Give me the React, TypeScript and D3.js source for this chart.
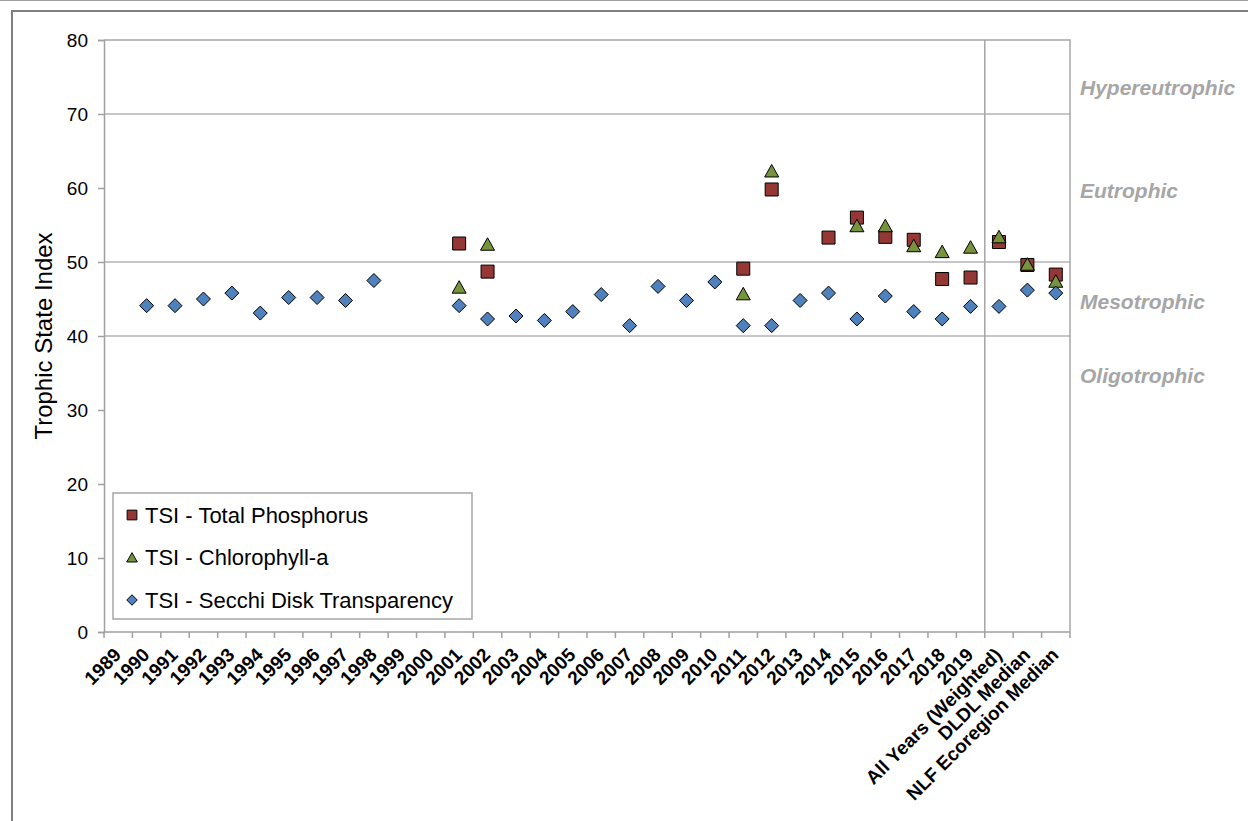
import * as React from 'react';
import * as d3 from 'd3';

const categories = [
  '1989', '1990', '1991', '1992', '1993', '1994', '1995', '1996', '1997', '1998',
  '1999', '2000', '2001', '2002', '2003', '2004', '2005', '2006', '2007', '2008',
  '2009', '2010', '2011', '2012', '2013', '2014', '2015', '2016', '2017', '2018',
  '2019', 'All Years (Weighted)', 'DLDL Median', 'NLF Ecoregion Median'
];

const tsiPhosphorus = [
  null, null, null, null, null, null, null, null, null, null,
  null, null, 52.5, 48.7, null, null, null, null, null, null,
  null, null, 49.1, 59.8, null, 53.3, 56.0, 53.4, 53.0, 47.7,
  47.9, 52.7, 49.6, 48.3
];

const tsiChlorophyll = [
  null, null, null, null, null, null, null, null, null, null,
  null, null, 46.6, 52.4, null, null, null, null, null, null,
  null, null, 45.7, 62.3, null, null, 54.9, 54.9, 52.2, 51.4,
  52.0, 53.4, 49.7, 47.4
];

const tsiSecchi = [
  null, 44.1, 44.1, 45.0, 45.8, 43.1, 45.2, 45.2, 44.8, 47.5,
  null, null, 44.1, 42.3, 42.7, 42.1, 43.3, 45.6, 41.4, 46.7,
  44.8, 47.3, 41.4, 41.4, 44.8, 45.8, 42.3, 45.4, 43.3, 42.3,
  44.0, 44.0, 46.2, 45.8
];

const yTicks = [0, 10, 20, 30, 40, 50, 60, 70, 80];
const gridValues = [40, 50, 70];
const trophicLabels = ['Hypereutrophic', 'Eutrophic', 'Mesotrophic', 'Oligotrophic'];
const trophicLabelValues = [73.6, 59.7, 44.6, 34.6];

const seriesNames = ['TSI - Total Phosphorus', 'TSI - Chlorophyll-a', 'TSI - Secchi Disk Transparency'];
const seriesColors = ['#953735', '#77933C', '#4F81BD'];
const seriesShapes = ['square', 'triangle', 'diamond'];

const font = 'Arial, "Liberation Sans", sans-serif';

const markerPath = (shape: string) => {
  if (shape === 'square') return 'M-6.5,-6.5H6.5V6.5H-6.5Z';
  if (shape === 'triangle') return 'M0,-6.5L7,6L-7,6Z';
  return 'M0,-7L7,0L0,7L-7,0Z';
};

export default function App() {
  const ref = React.useRef<SVGSVGElement>(null);

  React.useEffect(() => {
    const width = 1248;
    const height = 821;
    const margin = { top: 40, left: 104, right: 178, bottom: 189 };
    const innerWidth = width - margin.left - margin.right;
    const innerHeight = height - margin.top - margin.bottom;

    const svg = d3.select(ref.current);
    svg.selectAll('*').remove();

    // outer frame
    svg.append('line')
      .attr('x1', 0).attr('x2', width).attr('y1', 0.5).attr('y2', 0.5)
      .attr('stroke', '#a0a0a0').attr('stroke-width', 1);
    svg.append('rect')
      .attr('x', 12).attr('y', 11).attr('width', width).attr('height', height)
      .attr('fill', 'none').attr('stroke', '#808080').attr('stroke-width', 2);

    const xScale = d3.scaleBand<string>()
      .domain(categories)
      .range([0, innerWidth])
      .padding(0);

    const yScale = d3.scaleLinear()
      .domain([0, 80])
      .range([innerHeight, 0]);

    const g = svg.append('g')
      .attr('transform', `translate(${margin.left}, ${margin.top})`);

    // grid lines
    g.append('g').selectAll('line')
      .data(gridValues)
      .enter().append('line')
      .attr('x1', 0).attr('x2', innerWidth)
      .attr('y1', d => yScale(d)).attr('y2', d => yScale(d))
      .attr('stroke', '#b4b4b4').attr('stroke-width', 1.5);

    // top and right border of plot
    g.append('path')
      .attr('d', `M0,${yScale(80)}H${innerWidth}V${innerHeight}`)
      .attr('fill', 'none').attr('stroke', '#a6a6a6').attr('stroke-width', 1.5);

    // separator before summary columns
    const sepX = xScale('All Years (Weighted)') as number;
    g.append('line')
      .attr('x1', sepX).attr('x2', sepX)
      .attr('y1', 0).attr('y2', innerHeight)
      .attr('stroke', '#a6a6a6').attr('stroke-width', 1.5);

    // y axis
    const yAxis = d3.axisLeft(yScale).tickValues(yTicks).tickSize(6).tickPadding(10);
    const yg = g.append('g').call(yAxis);
    yg.select('.domain').attr('stroke', '#a0a0a0').attr('stroke-width', 1.5);
    yg.selectAll('.tick line').attr('stroke', '#a0a0a0').attr('stroke-width', 1.5);
    yg.selectAll('.tick text')
      .attr('font-family', font)
      .attr('font-size', 19).attr('fill', '#000');

    // x axis with ticks between categories
    const xg = g.append('g').attr('transform', `translate(0, ${innerHeight})`);
    xg.append('line')
      .attr('x1', 0).attr('x2', innerWidth)
      .attr('stroke', '#a0a0a0').attr('stroke-width', 1.5);
    xg.selectAll('line.tick')
      .data(categories.concat(['end']))
      .enter().append('line')
      .attr('class', 'tick')
      .attr('x1', (d, i) => i * xScale.bandwidth()).attr('x2', (d, i) => i * xScale.bandwidth())
      .attr('y1', 0).attr('y2', 6)
      .attr('stroke', '#a0a0a0').attr('stroke-width', 1.5);
    xg.selectAll('text')
      .data(categories)
      .enter().append('text')
      .attr('transform', d => `translate(${(xScale(d) as number) + xScale.bandwidth() / 2 + 4}, 24) rotate(-45)`)
      .attr('text-anchor', 'end')
      .attr('font-family', font)
      .attr('font-weight', 'bold')
      .attr('font-size', 19)
      .text(d => d);

    // y axis title
    g.append('text')
      .attr('transform', `translate(-52, ${innerHeight / 2}) rotate(-90)`)
      .attr('text-anchor', 'middle')
      .attr('font-family', font)
      .attr('font-size', 24)
      .text('Trophic State Index');

    // trophic state labels on the right
    g.append('g').selectAll('text')
      .data(trophicLabels)
      .enter().append('text')
      .attr('x', innerWidth + 10)
      .attr('y', (d, i) => yScale(trophicLabelValues[i]))
      .attr('dy', '0.35em')
      .attr('font-family', font)
      .attr('font-weight', 'bold')
      .attr('font-style', 'italic')
      .attr('font-size', 21)
      .attr('fill', '#a6a6a6')
      .text(d => d);

    // data markers
    const allSeries = [tsiPhosphorus, tsiChlorophyll, tsiSecchi];
    allSeries.forEach((values, s) => {
      g.append('g').selectAll('path')
        .data(categories.map((c, i) => ({ c, v: values[i] })).filter(d => d.v !== null))
        .enter().append('path')
        .attr('transform', d => `translate(${(xScale(d.c) as number) + xScale.bandwidth() / 2}, ${yScale(d.v as number)})`)
        .attr('d', markerPath(seriesShapes[s]))
        .attr('fill', seriesColors[s])
        .attr('stroke', '#000')
        .attr('stroke-width', 1);
    });

    // legend
    const legendX = 9;
    const legendY = 453;
    const lineHeight = 42.5;
    const legend = g.append('g').attr('transform', `translate(${legendX}, ${legendY})`);
    legend.append('rect')
      .attr('width', 359).attr('height', 126)
      .attr('fill', '#fff')
      .attr('stroke', '#a6a6a6').attr('stroke-width', 1.5);
    const entry = legend.selectAll('g.entry')
      .data(seriesNames)
      .enter().append('g')
      .attr('class', 'entry')
      .attr('transform', (d, i) => `translate(19, ${22 + lineHeight * i})`);
    entry.append('path')
      .attr('d', (d, i) => markerPath(seriesShapes[i]))
      .attr('transform', 'scale(0.75)')
      .attr('fill', (d, i) => seriesColors[i])
      .attr('stroke', '#000').attr('stroke-width', 1.3);
    entry.append('text')
      .attr('x', 13)
      .attr('dy', '0.36em')
      .attr('font-family', font)
      .attr('font-size', 22)
      .text(d => d);
  }, []);

  return (
    <svg ref={ref} width={1248} height={821}
      style={{ position: 'absolute', left: 0, top: 0, background: '#fff' }} />
  );
}
